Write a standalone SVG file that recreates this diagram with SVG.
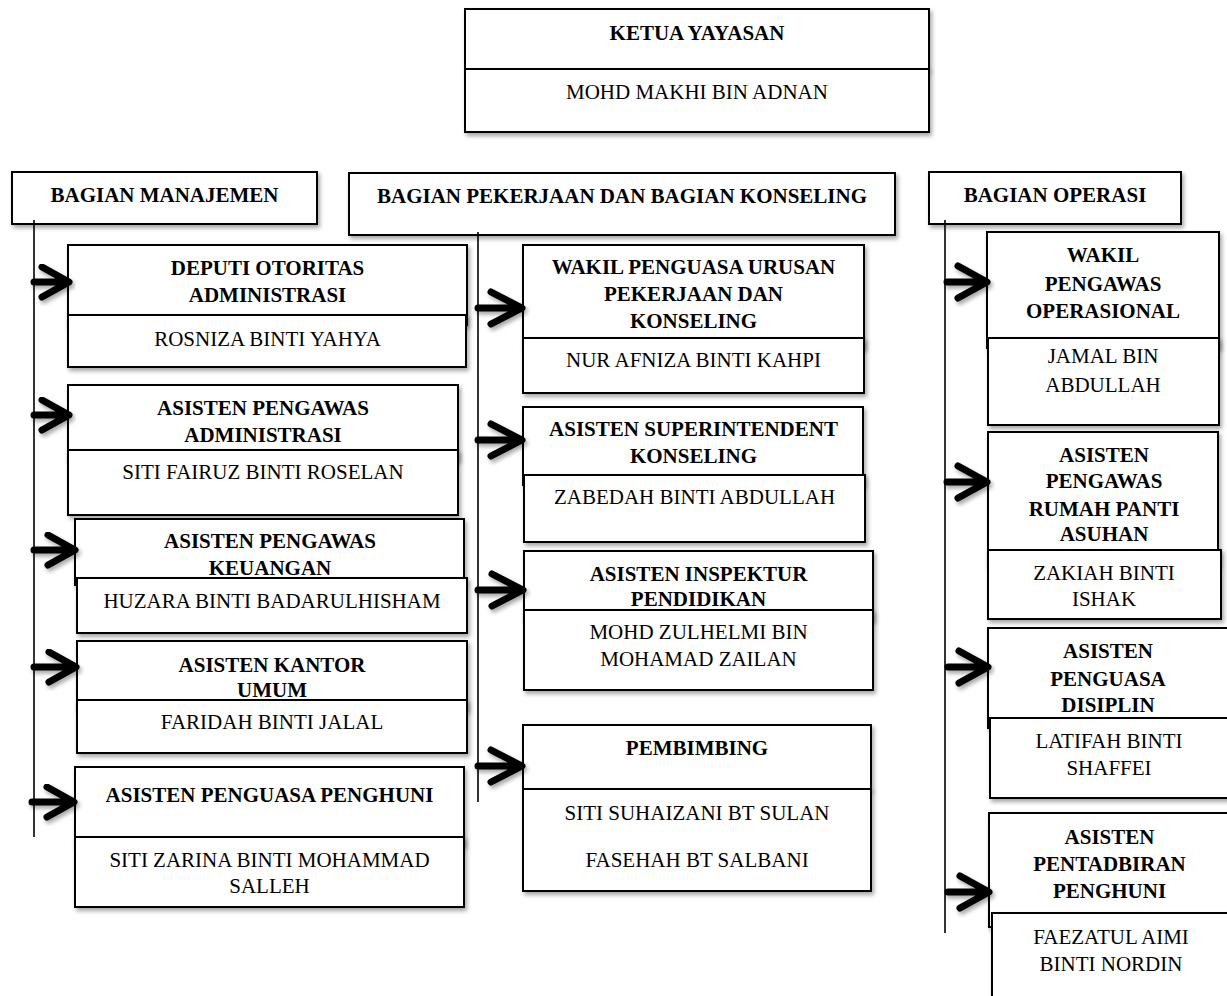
<svg xmlns="http://www.w3.org/2000/svg" width="1227" height="996" viewBox="0 0 1227 996">
<defs>
<filter id="sh" x="-10%" y="-10%" width="130%" height="140%">
<feDropShadow dx="2" dy="3" stdDeviation="2" flood-color="#000" flood-opacity="0.35"/>
</filter>
<style>
rect{fill:#fff;stroke:#000;stroke-width:2;filter:url(#sh)}
text{font-family:"Liberation Serif","Times New Roman",serif;font-size:21px;fill:#000;text-anchor:middle}
.b{font-weight:bold}
.vl{stroke:#000;stroke-width:1.6;fill:none}
.ar{stroke:#000;stroke-width:7;fill:none;stroke-linecap:round;stroke-linejoin:round;filter:url(#sh)}
</style>
</defs>
<rect x="0" y="0" width="1227" height="996" style="fill:#fff;stroke:none;filter:none"/>

<g id="ketua">
<rect x="465" y="9" width="464" height="60"/>
<rect x="465" y="69" width="464" height="63"/>
<text class="b" x="697" y="40">KETUA YAYASAN</text>
<text x="697" y="99">MOHD MAKHI BIN ADNAN</text>
</g>

<g id="bagian-manajemen">
<rect x="12" y="172" width="305" height="52"/>
<text class="b" x="164.5" y="202">BAGIAN MANAJEMEN</text>
</g>
<g id="bagian-pekerjaan">
<rect x="349" y="173" width="546" height="62"/>
<text class="b" x="622" y="203">BAGIAN PEKERJAAN DAN BAGIAN KONSELING</text>
</g>
<g id="bagian-operasi">
<rect x="929" y="172" width="252" height="52"/>
<text class="b" x="1055" y="202">BAGIAN OPERASI</text>
</g>

<!-- left column -->
<g id="deputi">
<rect x="68" y="245" width="399" height="80"/>
<rect x="68" y="315" width="398" height="52"/>
<text class="b" x="267.5" y="275">DEPUTI OTORITAS</text>
<text class="b" x="267.5" y="302">ADMINISTRASI</text>
<text x="267.5" y="346">ROSNIZA BINTI YAHYA</text>
</g>
<g id="asisten-administrasi">
<rect x="68" y="385" width="390" height="75"/>
<rect x="68" y="450" width="390" height="65"/>
<text class="b" x="263" y="415">ASISTEN PENGAWAS</text>
<text class="b" x="263" y="442">ADMINISTRASI</text>
<text x="263" y="479">SITI FAIRUZ BINTI ROSELAN</text>
</g>
<g id="asisten-keuangan">
<rect x="75" y="519" width="389" height="66"/>
<rect x="77" y="578" width="390" height="55"/>
<text class="b" x="270" y="548">ASISTEN PENGAWAS</text>
<text class="b" x="270" y="575">KEUANGAN</text>
<text x="272" y="608">HUZARA BINTI BADARULHISHAM</text>
</g>
<g id="asisten-kantor">
<rect x="77" y="641" width="390" height="69"/>
<rect x="77" y="700" width="390" height="53"/>
<text class="b" x="272" y="672">ASISTEN KANTOR</text>
<text class="b" x="272" y="697">UMUM</text>
<text x="272" y="729">FARIDAH BINTI JALAL</text>
</g>
<g id="asisten-penghuni">
<rect x="75" y="767" width="389" height="78"/>
<rect x="75" y="837" width="389" height="70"/>
<text class="b" x="269.5" y="802">ASISTEN PENGUASA PENGHUNI</text>
<text x="269.5" y="867">SITI ZARINA BINTI MOHAMMAD</text>
<text x="269.5" y="893">SALLEH</text>
</g>

<!-- middle column -->
<g id="wakil-pekerjaan">
<rect x="523" y="245" width="341" height="103"/>
<rect x="523" y="338" width="341" height="55"/>
<text class="b" x="693.5" y="274">WAKIL PENGUASA URUSAN</text>
<text class="b" x="693.5" y="301">PEKERJAAN DAN</text>
<text class="b" x="693.5" y="328">KONSELING</text>
<text x="693.5" y="367">NUR AFNIZA BINTI KAHPI</text>
</g>
<g id="asisten-superintendent">
<rect x="523" y="407" width="340" height="78"/>
<rect x="524" y="475" width="341" height="67"/>
<text class="b" x="693.5" y="436">ASISTEN SUPERINTENDENT</text>
<text class="b" x="693.5" y="463">KONSELING</text>
<text x="694.5" y="504">ZABEDAH BINTI ABDULLAH</text>
</g>
<g id="asisten-inspektur">
<rect x="524" y="551" width="349" height="69"/>
<rect x="524" y="610" width="349" height="80"/>
<text class="b" x="698.5" y="581">ASISTEN INSPEKTUR</text>
<text class="b" x="698.5" y="606">PENDIDIKAN</text>
<text x="698.5" y="639">MOHD ZULHELMI BIN</text>
<text x="698.5" y="666">MOHAMAD ZAILAN</text>
</g>
<g id="pembimbing">
<rect x="523" y="725" width="348" height="64"/>
<rect x="523" y="789" width="348" height="102"/>
<text class="b" x="697" y="755">PEMBIMBING</text>
<text x="697" y="820">SITI SUHAIZANI BT SULAN</text>
<text x="697" y="867">FASEHAH BT SALBANI</text>
</g>

<!-- right column -->
<g id="wakil-operasional">
<rect x="987" y="232" width="232" height="116"/>
<rect x="988" y="338" width="231" height="87"/>
<text class="b" x="1103" y="262">WAKIL</text>
<text class="b" x="1103" y="291">PENGAWAS</text>
<text class="b" x="1103" y="318">OPERASIONAL</text>
<text x="1103" y="363">JAMAL BIN</text>
<text x="1103" y="392">ABDULLAH</text>
</g>
<g id="asisten-rumah-panti">
<rect x="988" y="432" width="230" height="133"/>
<rect x="988" y="550" width="233" height="69"/>
<text class="b" x="1104" y="462">ASISTEN</text>
<text class="b" x="1104" y="488">PENGAWAS</text>
<text class="b" x="1104" y="516">RUMAH PANTI</text>
<text class="b" x="1104" y="541">ASUHAN</text>
<text x="1104" y="580">ZAKIAH BINTI</text>
<text x="1104" y="606">ISHAK</text>
</g>
<g id="asisten-disiplin">
<rect x="988" y="628" width="240" height="100"/>
<rect x="990" y="718" width="240" height="80"/>
<text class="b" x="1108" y="658">ASISTEN</text>
<text class="b" x="1108" y="686">PENGUASA</text>
<text class="b" x="1108" y="712">DISIPLIN</text>
<text x="1109" y="748">LATIFAH BINTI</text>
<text x="1109" y="775">SHAFFEI</text>
</g>
<g id="asisten-pentadbiran">
<rect x="989" y="813" width="241" height="114"/>
<rect x="992" y="913" width="240" height="95"/>
<text class="b" x="1109.5" y="844">ASISTEN</text>
<text class="b" x="1109.5" y="871">PENTADBIRAN</text>
<text class="b" x="1109.5" y="898">PENGHUNI</text>
<text x="1111" y="944">FAEZATUL AIMI</text>
<text x="1111" y="971">BINTI NORDIN</text>
</g>

<g id="connectors">
<line class="vl" x1="34" y1="220" x2="34" y2="837"/>
<line class="vl" x1="478" y1="232" x2="478" y2="802"/>
<line class="vl" x1="945" y1="220" x2="945" y2="933"/>

<path class="ar" d="M34,282 H68 M42,267 L69,282 L42,297"/>
<path class="ar" d="M34,415 H68 M42,400 L69,415 L42,430"/>
<path class="ar" d="M34,550 H74 M48,535 L75,550 L48,565"/>
<path class="ar" d="M34,667 H75 M49,652 L76,667 L49,682"/>
<path class="ar" d="M32,802 H73 M47,787 L74,802 L47,817"/>

<path class="ar" d="M478,308 H521 M491,292 L522,308 L491,324"/>
<path class="ar" d="M478,440 H521 M491,424 L522,440 L491,456"/>
<path class="ar" d="M478,590 H522 M492,574 L523,590 L492,606"/>
<path class="ar" d="M478,766 H521 M491,750 L522,766 L491,782"/>

<path class="ar" d="M947,282 H986 M958,266 L987,282 L958,298"/>
<path class="ar" d="M947,482 H986 M958,466 L987,482 L958,498"/>
<path class="ar" d="M948,667 H987 M959,651 L988,667 L959,683"/>
<path class="ar" d="M948,892 H988 M960,876 L989,892 L960,908"/>
</g>
</svg>
